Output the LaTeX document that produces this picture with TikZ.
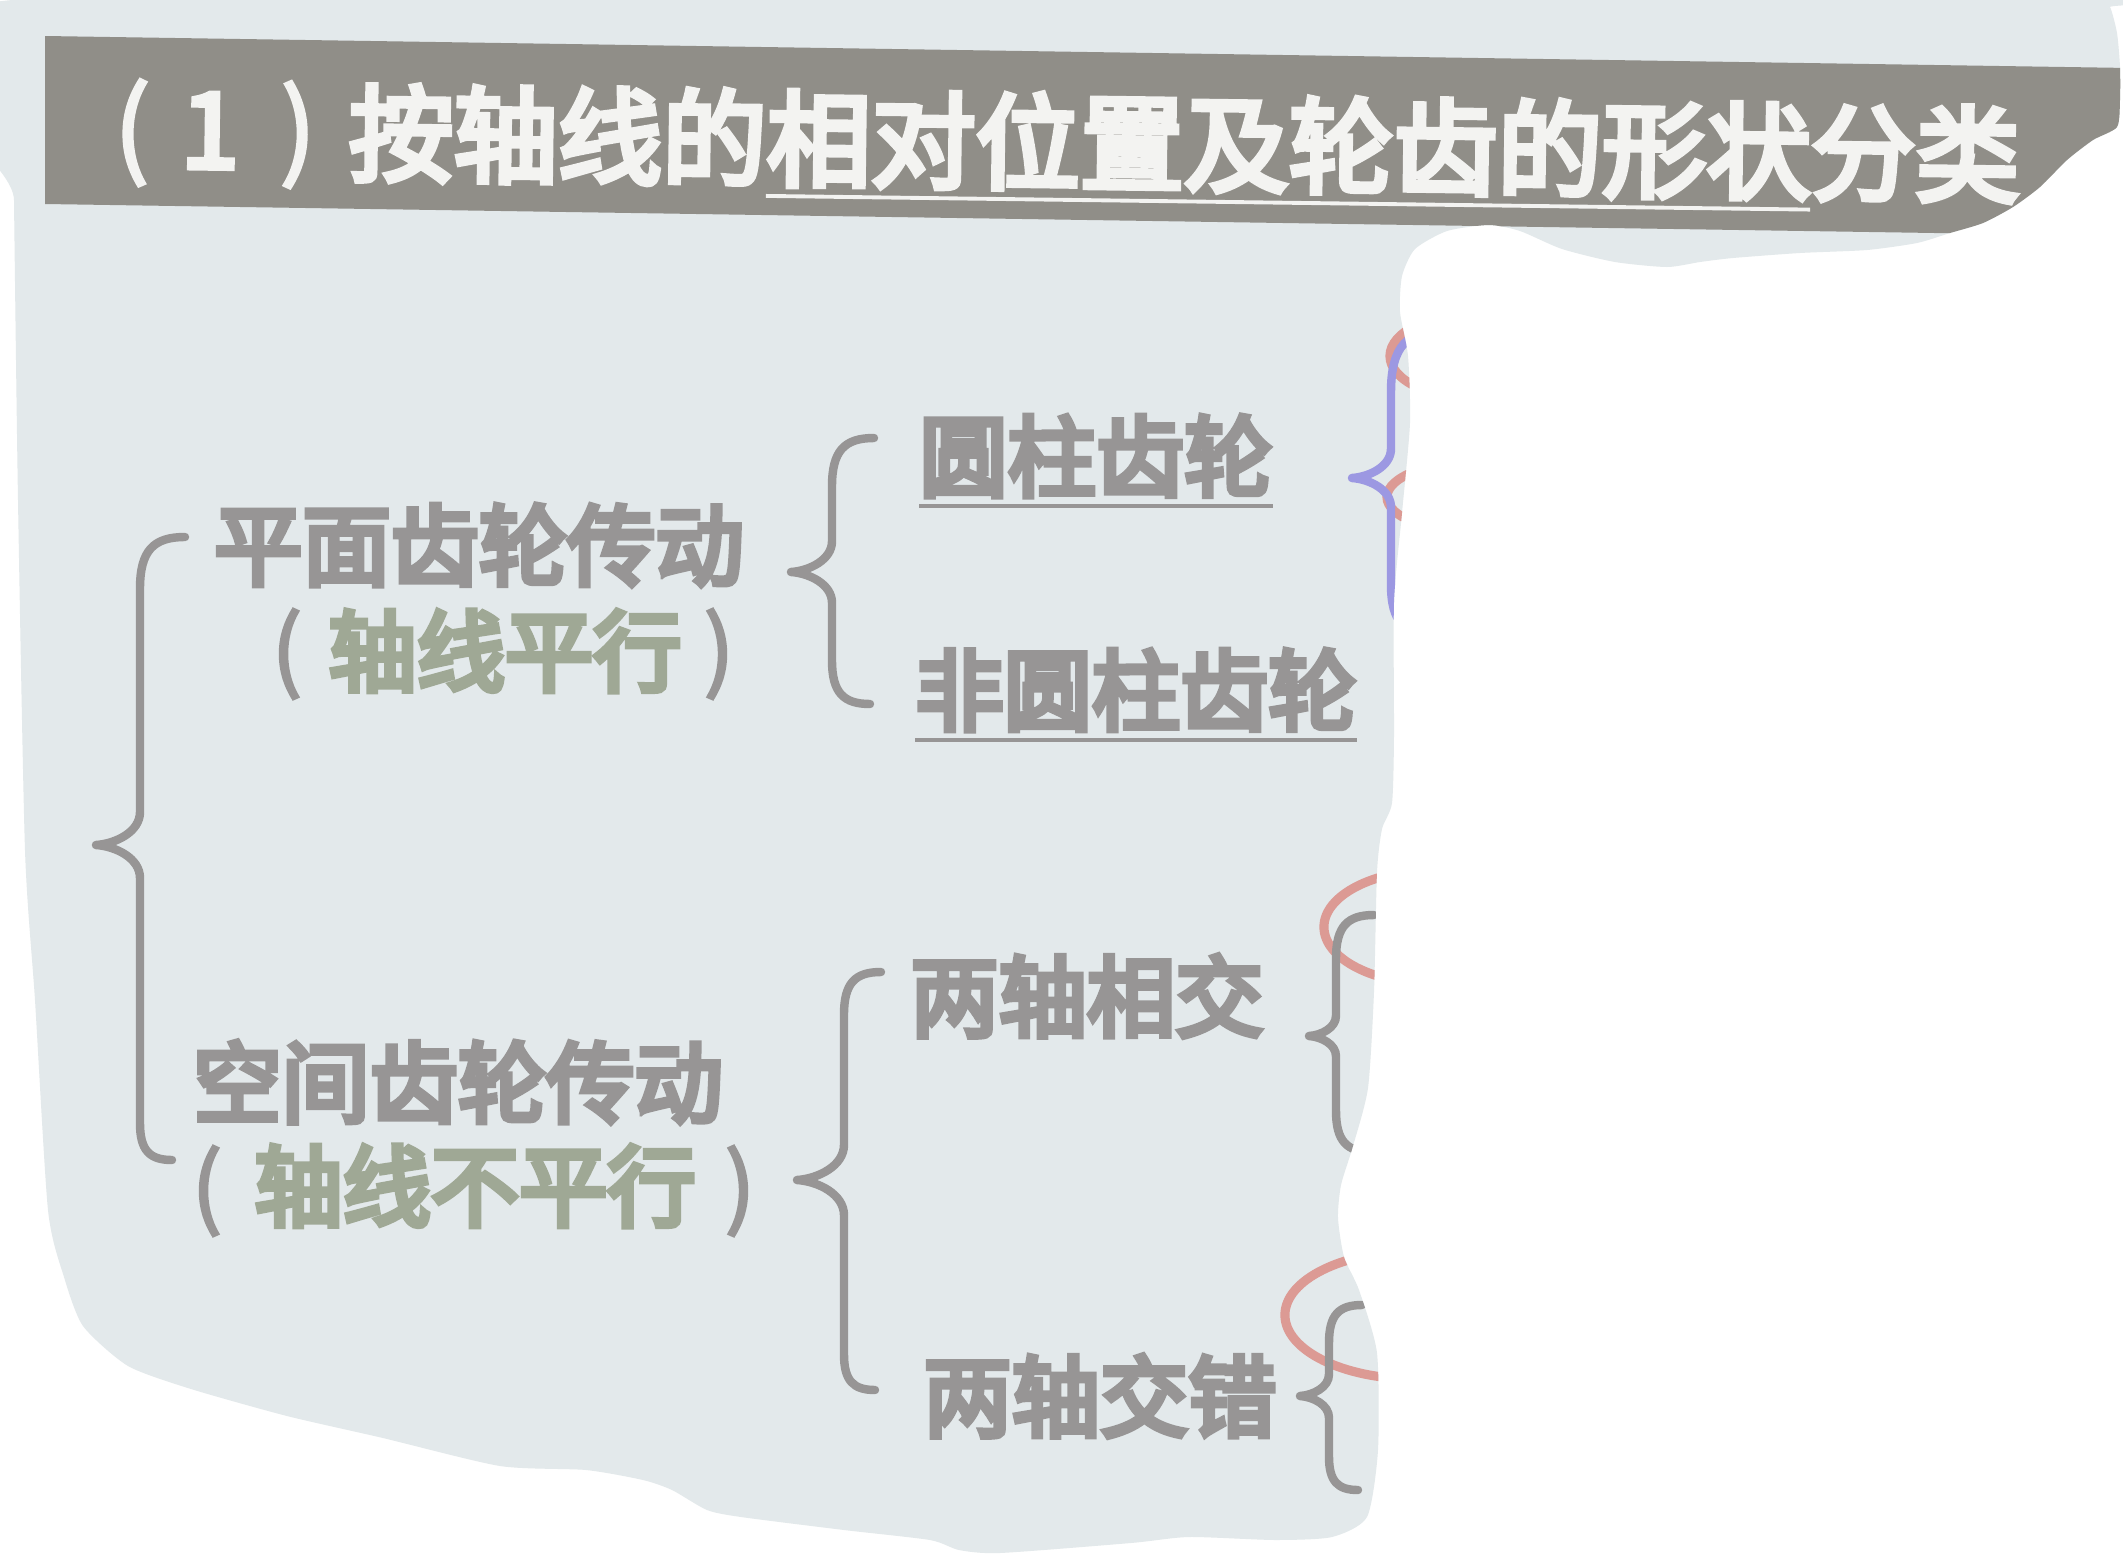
\documentclass[tikz,border=0pt]{standalone}
\usepackage{fontspec}
\newfontfamily\cjk[FakeBold=6.5]{Noto Sans CJK SC}
\newfontfamily\cjkt[FakeBold=5.5]{Noto Sans CJK SC}
\newfontfamily\cjkr[FakeBold=3]{Noto Sans CJK SC}
\usetikzlibrary{calc}
\definecolor{slidebg}{HTML}{E3E9EB}
\definecolor{barcol}{HTML}{908E88}
\definecolor{titletext}{HTML}{F3F3F1}
\definecolor{gtext}{HTML}{979595}
\definecolor{greentext}{HTML}{9FA895}
\definecolor{bluebrace}{HTML}{9C98E2}
\definecolor{redmark}{HTML}{DC9A94}
\tikzset{
  body/.style={font={\cjk\fontsize{25.1pt}{30pt}\selectfont}, text=gtext, inner sep=0pt, outer sep=0pt},
  paren/.style={font={\cjkr\fontsize{25.3pt}{30pt}\selectfont}, text=gtext, inner sep=0pt, outer sep=0pt},
  titletxt/.style={font={\cjkt\fontsize{29.7pt}{34pt}\selectfont}, text=titletext, inner sep=0pt, outer sep=0pt},
  titleparen/.style={font={\cjkr\fontsize{29.9pt}{34pt}\selectfont}, text=titletext, inner sep=0pt, outer sep=0pt},
  gbrace/.style={line width=2.4pt, line cap=round, line join=round, draw=gtext},
  bbrace/.style={gbrace, draw=bluebrace},
  redring/.style={draw=redmark, line width=2.6pt},
  uline/.style={draw=gtext, line width=1.2pt},
}
% #1 style, #2 x top end, #3 y top, #4 spine x, #5 tip x, #6 tip y, #7 x bottom end, #8 y bottom
\newcommand\drawbrace[8]{%
  \draw[#1] (#2,#3) .. controls ({#4+0.3*(#2-#4)},#3) and (#4,{#3+0.3*(#2-#4)}) .. (#4,{#3+1.15*(#2-#4)})
   -- (#4,{#6-0.75*(#4-#5)}) .. controls (#4,{#6-0.3*(#4-#5)}) and ({#5+0.45*(#4-#5)},{#6-0.03*(#4-#5)}) .. (#5,#6)
   .. controls ({#5+0.45*(#4-#5)},{#6+0.03*(#4-#5)}) and (#4,{#6+0.3*(#4-#5)}) .. (#4,{#6+0.75*(#4-#5)})
   -- (#4,{#8-1.15*(#7-#4)}) .. controls (#4,{#8-0.3*(#7-#4)}) and ({#4+0.3*(#7-#4)},#8) .. (#7,#8);}
\def\regionpath{plot[smooth cycle, tension=0.4] coordinates {
 (12,0) (2100,0) (2110,7) (2117,33) (2120,67) (2120,100) (2117,127) (2093,140) (2067,160)
 (2040,187) (2013,207) (1983,223) (1950,233) (1917,243) (1867,250) (1800,253) (1733,258)
 (1700,262) (1667,267) (1615,262) (1562,249) (1520,231) (1489,225) (1447,231) (1415,249)
 (1402,276) (1400,312) (1408,356) (1410,423) (1402,513) (1394,602) (1394,736) (1392,803)
 (1382,829) (1377,872) (1374,992) (1368,1088) (1353,1146) (1341,1185) (1338,1218) (1344,1257)
 (1359,1290) (1377,1353) (1378,1450) (1367,1517) (1332,1537) (1275,1540) (1189,1537) (1131,1543)
 (1000,1553) (959,1550) (930,1540) (844,1530) (741,1517) (707,1510) (672,1490) (643,1480)
 (586,1470) (500,1466) (383,1438) (287,1416) (191,1389) (128,1366) (83,1326) (64,1277)
 (48,1210) (35,1000) (25,850) (18,500) (14,200)}}
\begin{document}
\begin{tikzpicture}[x=0.01cm,y=-0.01cm]
\useasboundingbox (0,0) rectangle (2123,1554);
\fill[white] (0,0) rectangle (2123,1554);
\fill[slidebg] \regionpath;
\begin{scope}
\clip \regionpath;
% title bar
\fill[barcol] (45,36) -- (2130,68) -- (2130,236) -- (45,204) -- cycle;
\begin{scope}[rotate around={-0.75:(1000,143)}, transform shape]
  \node[titleparen] (tl) at (132,144) {(};
  \node[titletxt] (tn) at (210,141) {1};
  \node[titleparen] (tr) at (298,144) {)};
  \node[titletxt, anchor=base west] (t2) at (349,181) {按轴线的};
  \node[titletxt, anchor=base west, text depth=0.18cm] (t3) at (t2.base east) {相对位置及轮齿的形状};
  \node[titletxt, anchor=base west] (t4) at (t3.base east) {分类};
  \draw[draw=titletext, line width=1.1pt] (t3.south west) -- (t3.south east);
\end{scope}
% red hand-drawn rings (mostly torn away)
\draw[redring] (1482,356) ellipse [x radius=0.92cm, y radius=0.44cm];
\draw[redring] (1480,497) ellipse [x radius=0.93cm, y radius=0.36cm];
\draw[redring] (1434,927) ellipse [x radius=1.10cm, y radius=0.57cm];
\draw[redring] (1415,1315) ellipse [x radius=1.30cm, y radius=0.64cm];
% texts
\node[body] (pm) at (479,545) {平面齿轮传动};
\node[paren] (pmL) at (287,654) {(};
\node[body, text=greentext] (pmsub) at (505,651) {轴线平行};
\node[paren] (pmR) at (719,654) {)};
\node[body] (kj) at (458,1082) {空间齿轮传动};
\node[paren] (kjL) at (207,1191) {(};
\node[body, text=greentext] (kjsub) at (475,1186) {轴线不平行};
\node[paren] (kjR) at (740,1191) {)};
\node[body] (yz) at (1096,456) {圆柱齿轮};
\node[body] (fyz) at (1136,690) {非圆柱齿轮};
\node[body] (xj) at (1087,996) {两轴相交};
\node[body] (jc) at (1100,1396) {两轴交错};
\draw[uline] ($(yz.south west)+(0,9)$) -- ($(yz.south east)+(0,9)$);
\draw[uline] ($(fyz.south west)+(0,9)$) -- ($(fyz.south east)+(0,9)$);
% braces
\drawbrace{gbrace}{185}{537}{140}{96}{845}{172}{1160}
\drawbrace{gbrace}{874}{438}{832}{791}{572}{870}{704}
\drawbrace{gbrace}{881}{972}{844}{797}{1180}{875}{1390}
\drawbrace{bbrace}{1445}{330}{1391}{1352}{478}{1435}{635}
\drawbrace{gbrace}{1374}{915}{1336}{1309}{1036}{1372}{1152}
\drawbrace{gbrace}{1362}{1305}{1329}{1300}{1396}{1358}{1490}
\end{scope}
\end{tikzpicture}
\end{document}
